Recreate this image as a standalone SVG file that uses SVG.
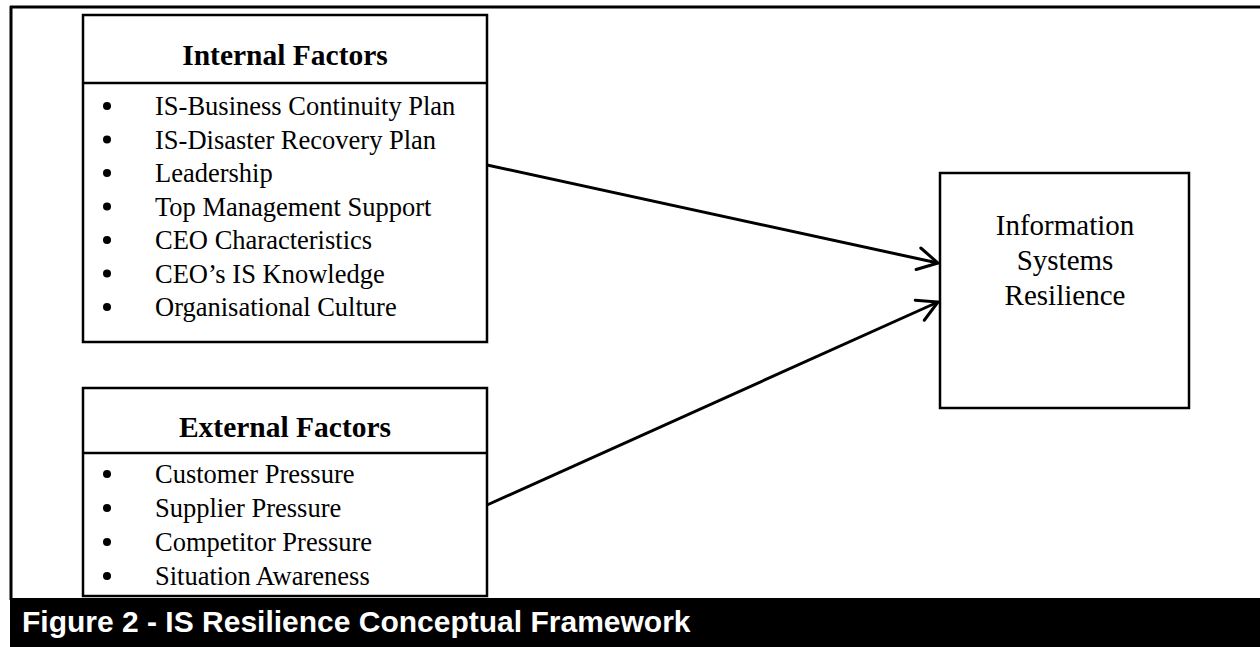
<svg xmlns="http://www.w3.org/2000/svg" width="1260" height="647" viewBox="0 0 1260 647">
<style>
.box{fill:#fff;stroke:#000;stroke-width:2.5}
.hdr{font-family:"Liberation Serif","Times New Roman",serif;font-weight:bold;font-size:29.5px;text-anchor:middle;fill:#000}
.item{font-family:"Liberation Serif","Times New Roman",serif;font-size:26.5px;fill:#000}
.big{font-family:"Liberation Serif","Times New Roman",serif;font-size:29px;text-anchor:middle;fill:#000}
.bul{fill:#000}
.conn{stroke:#000;stroke-width:3;fill:none}
.cap{font-family:"Liberation Sans",Arial,sans-serif;font-weight:bold;font-size:30px;fill:#fff}
</style>
<defs>
<marker id="arr" markerUnits="userSpaceOnUse" markerWidth="30" markerHeight="30" viewBox="-24 -15 30 30" refX="0" refY="0" orient="auto">
<path d="M-20,-11 L0,0 L-20,11" fill="none" stroke="#000" stroke-width="3" stroke-linecap="round" stroke-linejoin="miter"/>
</marker>
</defs>
<rect width="1260" height="647" fill="#fff"/>
<g id="frame">
<line x1="10" y1="7" x2="1260" y2="7" stroke="#000" stroke-width="3"/>
<line x1="11" y1="6" x2="11" y2="600" stroke="#000" stroke-width="3"/>
</g>
<g id="internal">
<rect class="box" x="83" y="15" width="404" height="327"/>
<line x1="83" y1="83" x2="487" y2="83" stroke="#000" stroke-width="2.5"/>
<text class="hdr" x="285" y="65">Internal Factors</text>
<g class="bul">
<circle cx="107" cy="106" r="4"/><circle cx="107" cy="139.5" r="4"/><circle cx="107" cy="173" r="4"/><circle cx="107" cy="206.5" r="4"/><circle cx="107" cy="240" r="4"/><circle cx="107" cy="273.5" r="4"/><circle cx="107" cy="307" r="4"/>
</g>
<text class="item" x="155" y="115">IS-Business Continuity Plan</text>
<text class="item" x="155" y="148.5">IS-Disaster Recovery Plan</text>
<text class="item" x="155" y="182">Leadership</text>
<text class="item" x="155" y="215.5">Top Management Support</text>
<text class="item" x="155" y="249">CEO Characteristics</text>
<text class="item" x="155" y="282.5">CEO’s IS Knowledge</text>
<text class="item" x="155" y="316">Organisational Culture</text>
</g>
<g id="external">
<rect class="box" x="83" y="388" width="404" height="208"/>
<line x1="83" y1="453" x2="487" y2="453" stroke="#000" stroke-width="2.5"/>
<text class="hdr" x="285" y="437">External Factors</text>
<g class="bul">
<circle cx="107" cy="474" r="4"/><circle cx="107" cy="508" r="4"/><circle cx="107" cy="542" r="4"/><circle cx="107" cy="576" r="4"/>
</g>
<text class="item" x="155" y="483">Customer Pressure</text>
<text class="item" x="155" y="517">Supplier Pressure</text>
<text class="item" x="155" y="551">Competitor Pressure</text>
<text class="item" x="155" y="585">Situation Awareness</text>
</g>
<g id="resilience">
<rect class="box" x="940" y="173" width="249" height="235" stroke-width="3"/>
<text class="big" x="1065" y="235">Information</text>
<text class="big" x="1065" y="270">Systems</text>
<text class="big" x="1065" y="305">Resilience</text>
</g>
<g id="connectors">
<line class="conn" x1="487" y1="165" x2="938" y2="263" marker-end="url(#arr)"/>
<line class="conn" x1="487" y1="505" x2="938" y2="302" marker-end="url(#arr)"/>
</g>
<g id="caption">
<rect x="10" y="598" width="1250" height="49" fill="#000"/>
<text class="cap" x="22" y="632">Figure 2 - IS Resilience Conceptual Framework</text>
</g>
</svg>
